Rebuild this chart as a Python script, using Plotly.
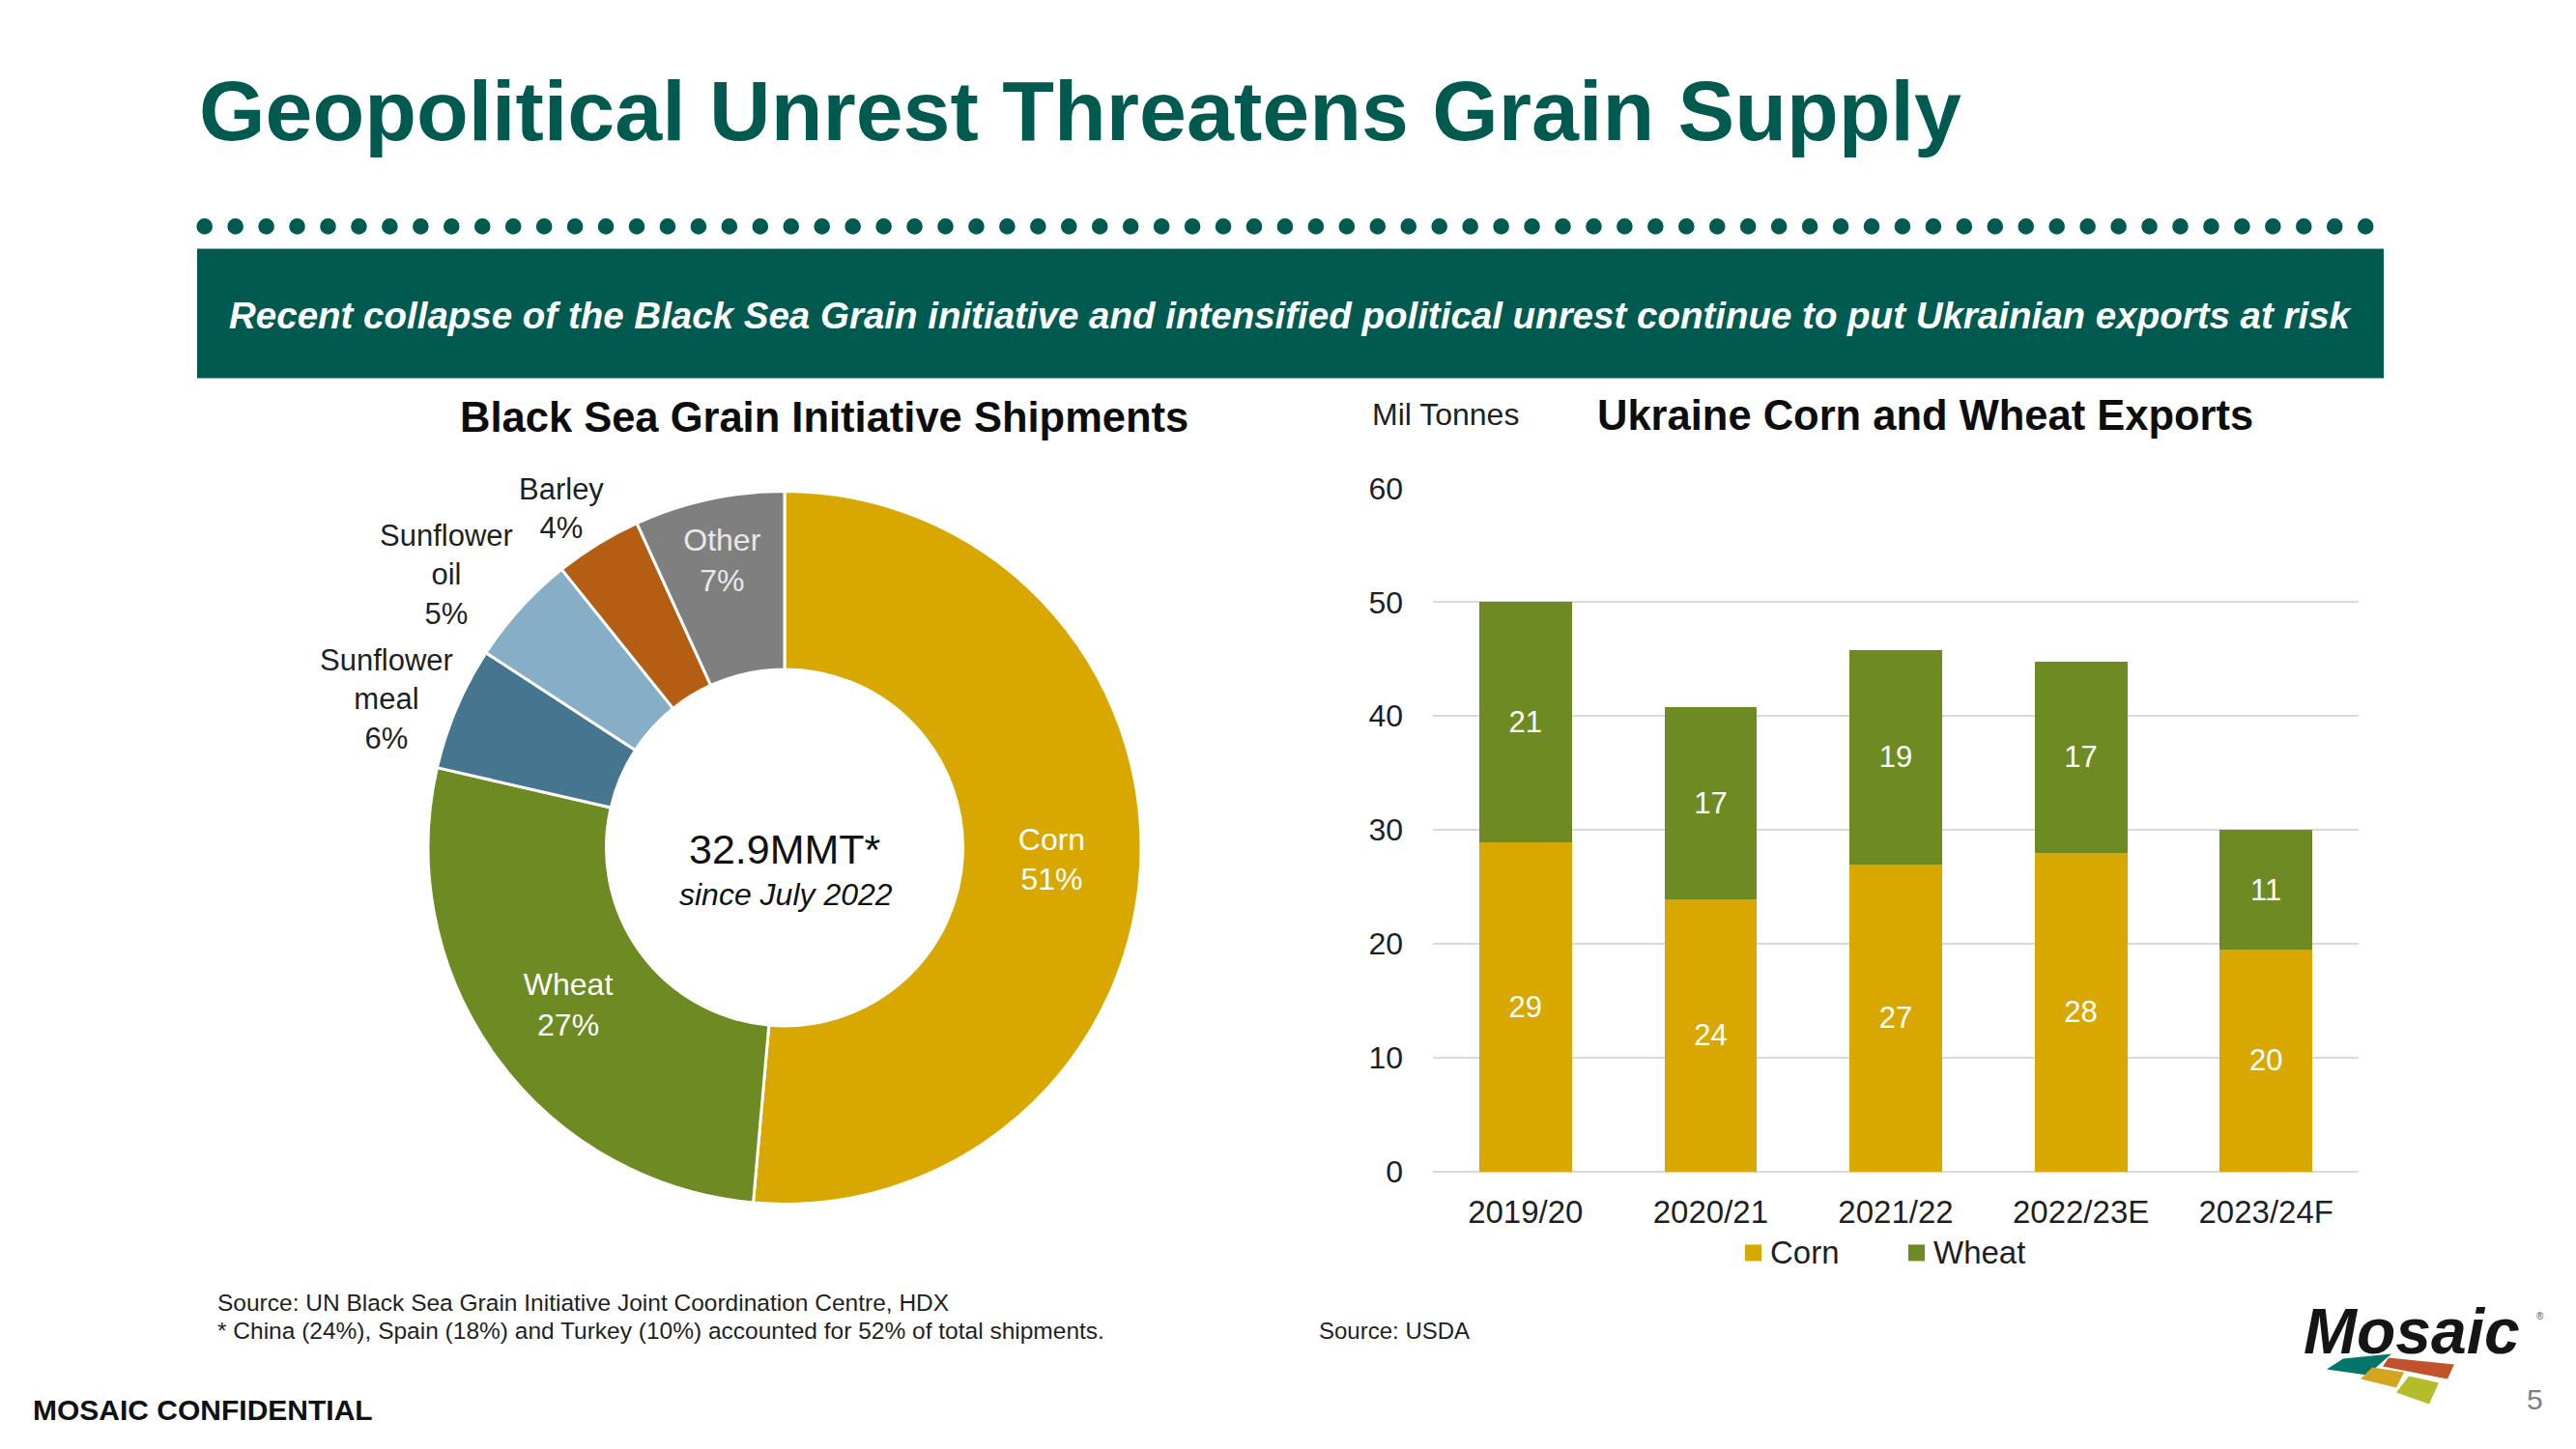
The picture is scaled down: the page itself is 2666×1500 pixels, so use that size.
import plotly.graph_objects as go

# ---------------- data ----------------
pie_labels = ["Corn", "Wheat", "Sunflower meal", "Sunflower oil", "Barley", "Other"]
pie_values = [51.4, 27.2, 5.6, 5.05, 3.95, 6.8]
pie_colors = ["#D9A800", "#6E8B23", "#45758F", "#86AEC6", "#B35E12", "#7F7F7F"]

seasons = ["2019/20", "2020/21", "2021/22", "2022/23E", "2023/24F"]
corn = [28.9, 23.9, 27.0, 28.0, 19.5]
wheat = [21.1, 16.9, 18.8, 16.8, 10.5]
series_names = ["Corn", "Wheat"]
series_colors = ["#D9A800", "#6E8B23"]
y_ticks = [0, 10, 20, 30, 40, 50, 60]

# ---------------- helpers ----------------
W, H = 2666, 1500
# observed page placement of the figure (offset / effective height)
OX, OY, HR = 8.0, 25.6, 1464.0
FONT = "Liberation Sans, Arial, sans-serif"
GREEN = "#005A50"
DARK = "#1F1F1F"


def px(x):
    return (x - OX) / W


def py(y):
    return 1 - (y - OY) / HR


annotations = []
shapes = []


def text(x, y, s, size, color=DARK, anchor="center", bold=False, italic=False):
    annotations.append(dict(
        x=px(x), y=py(y), xref="paper", yref="paper", text=s, showarrow=False,
        xanchor=anchor, yanchor="middle", align="center" if anchor == "center" else anchor,
        font=dict(family=FONT, size=size, color=color,
                  weight="bold" if bold else "normal",
                  style="italic" if italic else "normal"),
    ))


fig = go.Figure()

# ---------------- donut ----------------
cx, cy, r = 812, 877, 369
inside_pos = ["inside", "inside", "none", "none", "none", "inside"]
inside_col = ["white", "white", "white", "white", "white", "#E8E8E8"]
fig.add_trace(go.Pie(
    labels=pie_labels, values=pie_values, sort=False, direction="clockwise", rotation=0,
    hole=0.5, marker=dict(colors=pie_colors, line=dict(color="white", width=3)),
    textposition=inside_pos, insidetextorientation="horizontal",
    texttemplate="%{label}<br>%{percent:.0%}",
    textfont=dict(family=FONT, size=32, color=inside_col),
    domain=dict(x=[px(cx - r), px(cx + r)], y=[py(cy + r), py(cy - r)]),
    showlegend=False, hoverinfo="label+percent",
))

# outside labels for the small slices
total = sum(pie_values)
out_pos = {"Sunflower meal": (400, 724), "Sunflower oil": (462, 595), "Barley": (581, 526)}
for lab, val in zip(pie_labels, pie_values):
    if lab in out_pos:
        x, y = out_pos[lab]
        txt = "<br>".join(lab.split(" ")) + "<br>" + f"{round(val / total * 100):.0f}%"
        text(x, y, txt, 31, color=DARK)

text(812, 879, "32.9MMT*", 43, color="#111111")
text(813, 926, "since July 2022", 32, color="#111111", italic=True)

# ---------------- bars ----------------
for name, vals, col in zip(series_names, [corn, wheat], series_colors):
    fig.add_trace(go.Bar(
        x=seasons, y=vals, name=name, marker=dict(color=col, line=dict(width=0)),
        texttemplate="%{y:.0f}", textposition="inside", insidetextanchor="middle",
        textangle=0, textfont=dict(family=FONT, size=31, color="white"),
        showlegend=False, xaxis="x", yaxis="y",
    ))

# legend (drawn as key squares + names)
leg_x = [1806, 1975]
for name, col, lx in zip(series_names, series_colors, leg_x):
    shapes.append(dict(type="rect", xref="paper", yref="paper",
                       x0=px(lx), x1=px(lx + 17), y0=py(1305), y1=py(1288),
                       fillcolor=col, line=dict(width=0)))
    text(lx + 24, 1296, name, 33, color=DARK, anchor="left")

# ---------------- decorations ----------------
text(204, 114, "Geopolitical Unrest Threatens Grain Supply", 88, color=GREEN, anchor="left", bold=True)

for i in range(71):
    dx = 211.7 + i * 31.95
    shapes.append(dict(type="circle", xref="paper", yref="paper",
                       x0=px(dx - 8.3), x1=px(dx + 8.3), y0=py(234 + 8.3), y1=py(234 - 8.3),
                       fillcolor=GREEN, line=dict(width=0)))

shapes.append(dict(type="rect", xref="paper", yref="paper", x0=px(204), x1=px(2467),
                   y0=py(391), y1=py(257), fillcolor=GREEN, line=dict(width=0), layer="below"))
text(1335.5, 326, "Recent collapse of the Black Sea Grain initiative and intensified political unrest "
     "continue to put Ukrainian exports at risk", 38.5, color="white", bold=True, italic=True)

text(853, 432, "Black Sea Grain Initiative Shipments", 43.5, color="#0D0D0D", bold=True)
text(1992, 430, "Ukraine Corn and Wheat Exports", 43.5, color="#0D0D0D", bold=True)
text(1418, 429, "Mil Tonnes", 32, color=DARK, anchor="left")

text(223, 1348, "Source: UN Black Sea Grain Initiative Joint Coordination Centre, HDX", 24.5, anchor="left")
text(223, 1377, "* China (24%), Spain (18%) and Turkey (10%) accounted for 52% of total shipments.", 24.5, anchor="left")
text(1363, 1377, "Source: USDA", 24, anchor="left")
text(32, 1459, "MOSAIC CONFIDENTIAL", 30, color="#111111", anchor="left", bold=True)
text(2623, 1448, "5", 30, color="#808080")

# Mosaic logo
text(2382, 1378, "Mosaic", 66, color="#151515", anchor="left", bold=True, italic=True)
text(2629, 1362, "®", 10, color="#555555")
tiles = [
    ([(2408, 1417), (2425, 1406), (2475, 1401), (2450, 1423)], "#00766A"),
    ([(2472, 1405), (2540, 1412), (2533, 1427), (2466, 1414)], "#C2522B"),
    ([(2455, 1415), (2488, 1420), (2480, 1436), (2443, 1427)], "#D4A521"),
    ([(2493, 1424), (2524, 1431), (2514, 1453), (2480, 1441)], "#B3BD2B"),
]
for pts, col in tiles:
    path = "M " + " L ".join(f"{px(a):.5f},{py(b):.5f}" for a, b in pts) + " Z"
    shapes.append(dict(type="path", xref="paper", yref="paper", path=path,
                       fillcolor=col, line=dict(width=0)))

# ---------------- layout ----------------
fig.update_layout(
    width=W, height=H, margin=dict(l=0, r=0, t=0, b=0),
    paper_bgcolor="white", plot_bgcolor="white",
    barmode="stack", bargap=0.5,
    font=dict(family=FONT, color=DARK),
    xaxis=dict(domain=[px(1483), px(2441)], type="category", showgrid=False, showline=False,
               ticks="", tickfont=dict(family=FONT, size=33, color=DARK), ticklabelstandoff=19),
    yaxis=dict(domain=[py(1212.5), py(505)], range=[0, 60], tickvals=y_ticks,
               showgrid=True, gridcolor="#D9D9D9", gridwidth=2,
               zeroline=True, zerolinecolor="#D9D9D9", zerolinewidth=2, showline=False,
               ticks="", tickfont=dict(family=FONT, size=32, color=DARK), ticklabelstandoff=30),
    annotations=annotations, shapes=shapes,
)

fig.write_html("out.html")
